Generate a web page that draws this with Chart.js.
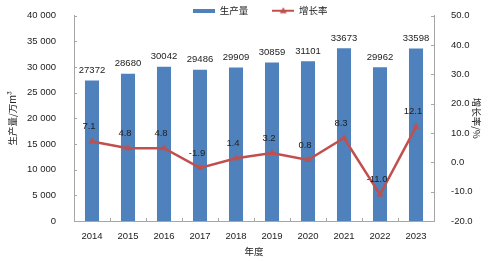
<!DOCTYPE html>
<html>
<head>
<meta charset="utf-8">
<script src="https://cdn.jsdelivr.net/npm/chart.js@4.4.1/dist/chart.umd.min.js"></script>
<style>
  html, body { margin: 0; padding: 0; background: #ffffff; }
  #wrap { width: 500px; height: 261px; position: relative; }
</style>
</head>
<body>
<div id="wrap"><canvas id="c" width="500" height="261"></canvas></div>
<script>
// ---- data ----
const years = ['2014', '2015', '2016', '2017', '2018', '2019', '2020', '2021', '2022', '2023'];
const production = [27372, 28680, 30042, 29486, 29909, 30859, 31101, 33673, 29962, 33598];
const growth = [7.1, 4.8, 4.8, -1.9, 1.4, 3.2, 0.8, 8.3, -11.0, 12.1];
const seriesNames = ['生产量', '增长率'];
const leftRange = [0, 40000, 5000];
const rightRange = [-20, 50, 10];
const leftTitle = '生产量/万m³';
const rightTitle = '增长率/%';
const xTitle = '年度';

// ---- styles ----
const BAR = '#4f81bd';
const LINE = '#c0504d';
const AXIS = '#a6a6a6';
const TXT = '#222222';
const NUMFONT = 'Liberation Sans, Arial, sans-serif';
const CJKFONT = '"Noto Sans CJK SC", sans-serif';

function makeBarIcon() {
  const c = document.createElement('canvas');
  c.width = 22; c.height = 4;
  const g = c.getContext('2d');
  g.fillStyle = BAR; g.fillRect(0, 0, 22, 4);
  return c;
}
function makeLineIcon() {
  const c = document.createElement('canvas');
  c.width = 22; c.height = 8;
  const g = c.getContext('2d');
  g.strokeStyle = LINE; g.lineWidth = 2;
  g.beginPath(); g.moveTo(0, 4); g.lineTo(22, 4); g.stroke();
  g.fillStyle = LINE;
  g.beginPath(); g.moveTo(11, 0.5); g.lineTo(14.5, 6.5); g.lineTo(7.5, 6.5); g.closePath(); g.fill();
  return c;
}
const icons = [makeBarIcon(), makeLineIcon()];

const fmtLeft = v => {
  if (v === 0) return '0';
  const th = Math.floor(v / 1000), r = v % 1000;
  return th + ' ' + String(r).padStart(3, '0');
};

const layoutPlugin = {
  id: 'layoutFix',
  beforeInit(chart) {
    const L = chart.legend;
    if (L) {
      const orig = L.fit;
      L.fit = function () { orig.call(this); this.height = 15; };
    }
  },
  afterLayout(chart) {
    const L = chart.legend;
    if (!L || !L.lineWidths) return;
    const pad = 24;
    const total = L.lineWidths[0];
    const start = 193;
    L.left = 0;
    L.right = 2 * start - pad + total;
    L.top = -18;
  }
};

const decoPlugin = {
  id: 'deco',
  afterDatasetsDraw(chart) {
    const ctx = chart.ctx;
    const x = chart.scales.x, y = chart.scales.y, y1 = chart.scales.y1;
    ctx.save();
    // inward tick marks
    ctx.strokeStyle = AXIS; ctx.lineWidth = 1;
    ctx.beginPath();
    for (let i = 1; i < years.length; i++) {
      const px = Math.round((x.getPixelForValue(i - 1) + x.getPixelForValue(i)) / 2) + 0.5;
      ctx.moveTo(px, x.top - 3); ctx.lineTo(px, x.top);
    }
    y.ticks.forEach(t => {
      const py = Math.round(y.getPixelForValue(t.value)) + 0.5;
      ctx.moveTo(y.right, py); ctx.lineTo(y.right + 3, py);
    });
    y1.ticks.forEach(t => {
      const py = Math.round(y1.getPixelForValue(t.value)) + 0.5;
      ctx.moveTo(y1.left - 3, py); ctx.lineTo(y1.left, py);
    });
    ctx.stroke();

    // value labels
    ctx.fillStyle = TXT;
    ctx.font = '9.5px ' + NUMFONT;
    ctx.textAlign = 'center';
    ctx.textBaseline = 'middle';
    const mb = chart.getDatasetMeta(0);
    mb.data.forEach((el, i) => {
      ctx.fillText(String(production[i]), el.x, el.y - 10);
    });
    const ml = chart.getDatasetMeta(1);
    ml.data.forEach((el, i) => {
      ctx.fillText(growth[i].toFixed(1), el.x - 3, el.y - 15);
    });
    ctx.restore();
  }
};

new Chart(document.getElementById('c'), {
  data: {
    labels: years,
    datasets: [
      {
        type: 'bar',
        label: seriesNames[0],
        data: production,
        backgroundColor: BAR,
        borderWidth: 0,
        yAxisID: 'y',
        order: 2,
        categoryPercentage: 1.0,
        barPercentage: 0.39
      },
      {
        type: 'line',
        label: seriesNames[1],
        data: growth,
        borderColor: LINE,
        backgroundColor: LINE,
        borderWidth: 2.5,
        pointStyle: 'triangle',
        pointRadius: 4,
        pointBorderWidth: 0,
        pointBackgroundColor: LINE,
        tension: 0,
        yAxisID: 'y1',
        order: 1
      }
    ]
  },
  options: {
    responsive: false,
    animation: false,
    devicePixelRatio: 1,
    layout: { padding: 0 },
    plugins: {
      tooltip: { enabled: false },
      legend: {
        display: true,
        position: 'top',
        align: 'center',
        labels: {
          usePointStyle: true,
          pointStyleWidth: 22,
          boxHeight: 8,
          padding: 24,
          color: TXT,
          font: { family: CJKFONT, size: 9.5 },
          generateLabels: () => seriesNames.map((n, i) => ({
            text: n,
            pointStyle: icons[i],
            fillStyle: i === 0 ? BAR : LINE,
            strokeStyle: i === 0 ? BAR : LINE,
            lineWidth: 0,
            hidden: false,
            datasetIndex: i,
            fontColor: TXT
          }))
        }
      }
    },
    scales: {
      x: {
        type: 'category',
        offset: true,
        grid: { display: false, offset: true },
        border: { display: true, color: AXIS, width: 1 },
        ticks: { color: TXT, font: { family: NUMFONT, size: 9.5 }, padding: 2, maxRotation: 0, autoSkip: false },
        title: { display: true, text: xTitle, color: TXT, font: { family: CJKFONT, size: 9.5 }, padding: { top: 0, bottom: 3.8 } },
        afterFit(s) { s.height = 40; }
      },
      y: {
        type: 'linear',
        position: 'left',
        min: leftRange[0], max: leftRange[1],
        grid: { display: false },
        border: { display: true, color: AXIS, width: 1 },
        ticks: { stepSize: leftRange[2], color: TXT, font: { family: NUMFONT, size: 9.5 }, padding: 10, callback: v => fmtLeft(v) },
        title: { display: true, text: leftTitle, color: TXT, font: { family: CJKFONT, size: 9.5 }, padding: { top: 7, bottom: 0 } },
        afterFit(s) { s.width = 74; }
      },
      y1: {
        type: 'linear',
        position: 'right',
        min: rightRange[0], max: rightRange[1],
        grid: { display: false },
        border: { display: true, color: AXIS, width: 1 },
        ticks: { stepSize: rightRange[2], color: TXT, font: { family: NUMFONT, size: 9.5 }, padding: 9, callback: v => Number(v).toFixed(1) },
        title: { display: true, text: rightTitle, color: TXT, font: { family: CJKFONT, size: 9.5 }, padding: { top: 17.3, bottom: 0 } },
        afterFit(s) { s.width = 66; }
      }
    }
  },
  plugins: [layoutPlugin, decoPlugin]
});
</script>
</body>
</html>
